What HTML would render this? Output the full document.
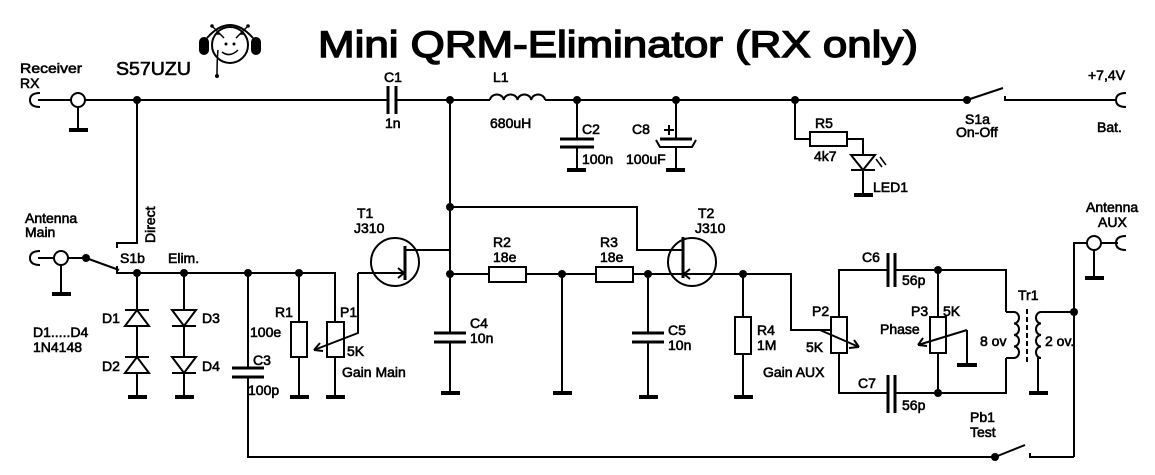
<!DOCTYPE html>
<html><head><meta charset="utf-8"><style>
html,body{margin:0;padding:0;background:#fff;}
svg{display:block;}
text{font-family:"Liberation Sans",sans-serif;font-size:14px;fill:#000;stroke:#000;stroke-width:0.6px;}
</style></head><body>
<svg width="1155" height="475" viewBox="0 0 1155 475" xmlns="http://www.w3.org/2000/svg">
<g stroke="#000" stroke-width="2" fill="none" stroke-linecap="butt">
<path d="M38 100 H388 M396 100 H490 M545 100 H967"/>
<path d="M40 93 Q30 93 30 100 Q30 107 40 107"/>
<circle cx="78" cy="100" r="7" fill="#fff"/>
<path d="M78 107 V130"/><path d="M69 130 H88" stroke-width="4"/>
<path d="M388 86 V114 M396 86 V114" stroke-width="3"/>
<path d="M490 100 a6.9 6 0 0 1 13.75 0 a6.9 6 0 0 1 13.75 0 a6.9 6 0 0 1 13.75 0 a6.9 6 0 0 1 13.75 0"/>
<path d="M577 100 V139 M577 147 V170"/>
<path d="M560 139 H594 M560 147 H594" stroke-width="3"/>
<path d="M567 170 H586" stroke-width="4"/>
<path d="M676 100 V139 M676 147 V170"/>
<path d="M660 139 H692" stroke-width="3"/>
<path d="M656 140 L660 147 H692 L696 140" stroke-width="2"/>
<path d="M666 170 H685" stroke-width="4"/>
<path d="M664 130 H674 M669 125 V135"/>
<path d="M795 100 V139 H810"/>
<rect x="810" y="132" width="37" height="14"/>
<path d="M847 139 H863 V155"/>
<path d="M851 155 H875 L863 170 Z"/>
<path d="M851 170 H875 M863 170 V195"/>
<path d="M854 195 H873" stroke-width="4"/>
<path d="M876 159 L882 167 M880 157 L886 165" stroke-width="1.5"/>
<path d="M967 100 L1003 88 M1005 96 V100 H1116"/>
<path d="M1126 93 Q1116 93 1116 100 Q1116 107 1126 107"/>
<path d="M137 100 V243 H117 V248"/>
<path d="M38 258 H86"/>
<path d="M40 251 Q30 251 30 258 Q30 265 40 265"/>
<circle cx="61" cy="258" r="7" fill="#fff"/>
<path d="M61 265 V294"/><path d="M52 294 H71" stroke-width="4"/>
<path d="M86 258 L119 270 M117 266 V273 H335 V322"/>
<path d="M137 273 V397"/>
<path d="M125 326 H149 L137 310 Z M125 310 H149" fill="#fff"/>
<path d="M125 373 H149 L137 357 Z M125 357 H149" fill="#fff"/>
<path d="M128 397 H147" stroke-width="4"/>
<path d="M184 273 V397"/>
<path d="M172 310 H196 L184 326 Z M172 326 H196" fill="#fff"/>
<path d="M172 357 H196 L184 373 Z M172 373 H196" fill="#fff"/>
<path d="M175 397 H194" stroke-width="4"/>
<path d="M248 273 V368 M248 377 V457 H995"/>
<path d="M232 368 H264 M232 377 H264" stroke-width="3"/>
<path d="M299 273 V322 M299 357 V397"/>
<rect x="291" y="322" width="16" height="35"/>
<path d="M290 397 H309" stroke-width="4"/>
<rect x="327" y="322" width="17" height="35"/>
<path d="M335 357 V397"/><path d="M326 397 H345" stroke-width="4"/>
<path d="M358 273 V333 L314 350"/>
<path d="M314 350 L320 343 M314 350 L323 351"/>
<circle cx="395" cy="262" r="24"/>
<path d="M358 273 H404 M398 268 L404 273 L398 278" />
<path d="M405 246 V280" stroke-width="3"/>
<path d="M406 250 H450 M450 100 V274"/>
<path d="M450 207 H637 V250 H683"/>
<path d="M450 274 H489 M450 274 V333 M450 342 V393"/>
<path d="M434 333 H466 M434 342 H466" stroke-width="3"/>
<path d="M441 393 H460" stroke-width="4"/>
<rect x="489" y="267" width="37" height="15"/>
<path d="M526 274 H596 M562 274 V393"/>
<path d="M553 393 H572" stroke-width="4"/>
<rect x="596" y="267" width="37" height="15"/>
<path d="M633 274 H791 V330 H832"/>
<path d="M648 274 V333 M648 342 V397"/>
<path d="M632 333 H664 M632 342 H664" stroke-width="3"/>
<path d="M639 397 H658" stroke-width="4"/>
<circle cx="692" cy="262" r="24"/>
<path d="M683 237 V278" stroke-width="3"/>
<path d="M690 269 L684 274 L690 279"/>
<path d="M743 274 V317 M743 354 V397"/>
<rect x="735" y="317" width="16" height="37"/>
<path d="M734 397 H753" stroke-width="4"/>
<rect x="831" y="317" width="16" height="36"/>
<path d="M839 317 V270 H888 M895 270 H1006 V312 M839 353 V393 H888 M895 393 H1006 V358"/>
<path d="M888 253 V287 M895 253 V287 M888 375 V413 M895 375 V413" stroke-width="3"/>
<path d="M820 330 L859 347 M859 347 L849 348 M859 347 L854 340"/>
<path d="M938 270 V317 M938 353 V393"/>
<rect x="930" y="317" width="16" height="36"/>
<path d="M967 330 V365 M967 330 L918 345 M918 345 L927 346 M918 345 L923 338"/>
<path d="M957 365 H977" stroke-width="4"/>
<path d="M1006 312 H1014 M1006 358 H1014"/>
<path d="M1014 312 a5 5.75 0 0 1 0 11.5 a5 5.75 0 0 1 0 11.5 a5 5.75 0 0 1 0 11.5 a5 5.75 0 0 1 0 11.5"/>
<path d="M1027 309 V362" stroke-dasharray="5 3"/>
<path d="M1041 312 a5 5.75 0 0 0 0 11.5 a5 5.75 0 0 0 0 11.5 a5 5.75 0 0 0 0 11.5 a5 5.75 0 0 0 0 11.5"/>
<path d="M1041 312 H1074 M1041 358 H1038 V393"/>
<path d="M1029 393 H1048" stroke-width="4"/>
<path d="M1074 457 V243 H1118"/>
<circle cx="1094" cy="243" r="7" fill="#fff"/>
<path d="M1094 250 V278"/><path d="M1085 278 H1104" stroke-width="4"/>
<path d="M1126 236 Q1116 236 1116 243 Q1116 250 1126 250"/>
<path d="M1074 457 H1030 V453 M995 457 L1025 445"/>
<circle cx="230" cy="45" r="18"/>
<path d="M207 38 Q230 12 253 38"/>
<rect x="200" y="38" width="8" height="16" rx="4" fill="#000"/>
<rect x="252" y="38" width="8" height="16" rx="4" fill="#000"/>
<path d="M212 26 L224 38 M216 34 L220 34 M248 26 L236 38 M244 34 L240 34" stroke-width="1.5"/>
<path d="M222 52 Q230 58 238 50" stroke-width="1.5"/>
<path d="M218 50 Q217 60 217 76" stroke-width="1.5"/>
</g>
<g fill="#000">
<circle cx="137" cy="100" r="4"/><circle cx="450" cy="100" r="4"/><circle cx="577" cy="100" r="4"/>
<circle cx="676" cy="100" r="4"/><circle cx="795" cy="100" r="4"/><circle cx="967" cy="100" r="4"/>
<circle cx="86" cy="258" r="4"/><circle cx="137" cy="273" r="4"/><circle cx="184" cy="273" r="4"/>
<circle cx="248" cy="273" r="4"/><circle cx="299" cy="273" r="4"/><circle cx="450" cy="207" r="4"/>
<circle cx="450" cy="274" r="4"/><circle cx="562" cy="274" r="4"/><circle cx="648" cy="274" r="4"/>
<circle cx="743" cy="274" r="4"/><circle cx="938" cy="270" r="4"/><circle cx="938" cy="393" r="4"/>
<circle cx="1074" cy="312" r="4"/><circle cx="995" cy="457" r="4"/>
<circle cx="212" cy="26" r="1.8"/><circle cx="248" cy="26" r="1.8"/><circle cx="217" cy="76" r="2"/>
<circle cx="226" cy="44" r="1.5"/><circle cx="234" cy="44" r="1.5"/>
</g>
<text x="318" y="57" style="font-size:37px;stroke-width:1.4px" textLength="600" lengthAdjust="spacingAndGlyphs">Mini QRM-Eliminator (RX only)</text>
<text x="20" y="73" textLength="62" lengthAdjust="spacingAndGlyphs">Receiver</text><text x="20" y="88">RX</text>
<text x="116" y="75" style="font-size:18px" textLength="75" lengthAdjust="spacingAndGlyphs">S57UZU</text>
<text x="384" y="82">C1</text><text x="385" y="128">1n</text>
<text x="493" y="82">L1</text><text x="490" y="128">680uH</text>
<text x="582" y="134">C2</text><text x="582" y="164">100n</text>
<text x="632" y="134">C8</text><text x="626" y="164">100uF</text>
<text x="815" y="128">R5</text><text x="814" y="161">4k7</text><text x="873" y="192">LED1</text>
<text x="965" y="124">S1a</text><text x="956" y="137">On-Off</text>
<text x="1088" y="80">+7,4V</text><text x="1097" y="132">Bat.</text>
<text x="25" y="223">Antenna</text><text x="25" y="237">Main</text>
<text transform="translate(155,243) rotate(-90)">Direct</text>
<text x="120" y="263">S1b</text><text x="168" y="263">Elim.</text>
<text x="102" y="323">D1</text><text x="102" y="371">D2</text>
<text x="202" y="323">D3</text><text x="202" y="371">D4</text>
<text x="33" y="337">D1.....D4</text><text x="33" y="352">1N4148</text>
<text x="253" y="365">C3</text><text x="248" y="395">100p</text>
<text x="275" y="317">R1</text><text x="250" y="337">100e</text>
<text x="340" y="317">P1</text><text x="347" y="356">5K</text><text x="342" y="377">Gain Main</text>
<text x="357" y="218">T1</text><text x="354" y="233">J310</text>
<text x="493" y="247">R2</text><text x="493" y="262">18e</text>
<text x="600" y="247">R3</text><text x="600" y="262">18e</text>
<text x="698" y="218">T2</text><text x="695" y="233">J310</text>
<text x="470" y="328">C4</text><text x="470" y="343">10n</text>
<text x="668" y="335">C5</text><text x="668" y="350">10n</text>
<text x="757" y="335">R4</text><text x="757" y="350">1M</text>
<text x="812" y="316">P2</text><text x="806" y="352">5K</text><text x="763" y="377">Gain AUX</text>
<text x="862" y="262">C6</text><text x="902" y="285">56p</text>
<text x="858" y="388">C7</text><text x="902" y="410">56p</text>
<text x="911" y="316">P3</text><text x="943" y="316">5K</text><text x="880" y="334">Phase</text>
<text x="1018" y="300">Tr1</text><text x="980" y="346">8 ov</text><text x="1045" y="346">2 ov.</text>
<text x="1086" y="212">Antenna</text><text x="1098" y="227">AUX</text>
<text x="970" y="422">Pb1</text><text x="970" y="437">Test</text>
</svg>
</body></html>
